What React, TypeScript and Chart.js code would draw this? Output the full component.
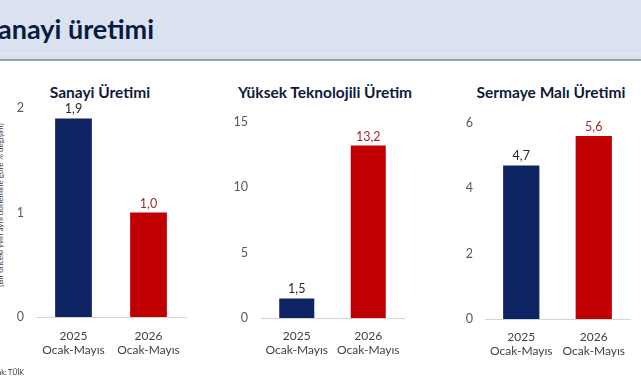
import React, { useEffect, useRef } from "react";
import { Chart, registerables } from "chart.js";

Chart.register(...registerables);

// ---- data ----
const categories: string[][] = [
  ["2025", "Ocak-Mayıs"],
  ["2026", "Ocak-Mayıs"],
];
const sanayiValues = [1.9, 1.0];
const yuksekTeknolojiValues = [1.5, 13.2];
const sermayeMaliValues = [4.7, 5.6];
const sanayiTicks = [0, 1, 2];
const yuksekTeknolojiTicks = [0, 5, 10, 15];
const sermayeMaliTicks = [0, 2, 4, 6];
const barColors = ["#0f2462", "#c00000"];
const valueLabelColors = ["#262626", "#9e2a2a"];

const pageTitle = "Sanayi üretimi";
const axisTitle = "(Bir önceki yılın aynı dönemine göre % değişim)";
const sourceText = "Kaynak: TÜİK";

const FONT = "Lato, 'Open Sans', sans-serif";

type Panel = {
  title: string;
  values: number[];
  ticks: number[];
  left: number;
  width: number;
  yWidth: number;
  padRight: number;
  padTop: number;
  xHeight: number;
  tickPad: number;
  xPad: number;
  barPct: number;
  titleCenter: number;
};

const panels: Panel[] = [
  { title: "Sanayi Üretimi", values: sanayiValues, ticks: sanayiTicks, left: 0, width: 205, yWidth: 36, padRight: 19, padTop: 8, xHeight: 53, tickPad: 12, xPad: 12, barPct: 0.49, titleCenter: 100 },
  { title: "Yüksek Teknolojili Üretim", values: yuksekTeknolojiValues, ticks: yuksekTeknolojiTicks, left: 215, width: 200, yWidth: 46, padRight: 11, padTop: 22, xHeight: 52, tickPad: 13, xPad: 11, barPct: 0.49, titleCenter: 325 },
  { title: "Sermaye Malı Üretimi", values: sermayeMaliValues, ticks: sermayeMaliTicks, left: 430, width: 211, yWidth: 55, padRight: 11, padTop: 23, xHeight: 51, tickPad: 12, xPad: 11, barPct: 0.5, titleCenter: 551 },
];

const fmt = (v: number) => v.toFixed(1).replace(".", ",");

const valueLabelPlugin = {
  id: "valueLabels",
  afterDatasetsDraw(chart: any) {
    const ctx = chart.ctx;
    const meta = chart.getDatasetMeta(0);
    const data = chart.data.datasets[0].data as number[];
    ctx.save();
    ctx.font = `12.5px ${FONT}`;
    ctx.textAlign = "center";
    ctx.textBaseline = "middle";
    meta.data.forEach((el: any, i: number) => {
      ctx.fillStyle = valueLabelColors[i];
      ctx.fillText(fmt(data[i]), el.x, el.y - 9);
    });
    ctx.restore();
  },
};

const CANVAS_TOP = 100;
const CANVAS_H = 270;

function BarPanel({ p }: { p: Panel }) {
  const ref = useRef<HTMLCanvasElement | null>(null);
  useEffect(() => {
    if (!ref.current) return;
    const chart = new Chart(ref.current, {
      type: "bar",
      data: {
        labels: categories,
        datasets: [
          {
            data: p.values,
            backgroundColor: barColors,
            barPercentage: p.barPct,
            categoryPercentage: 1,
          },
        ],
      },
      options: {
        animation: false,
        responsive: false,
        devicePixelRatio: 1,
        layout: { padding: { top: p.padTop, right: p.padRight, left: 0, bottom: 0 } },
        plugins: { legend: { display: false }, tooltip: { enabled: false }, title: { display: false } },
        scales: {
          x: {
            grid: { display: false, drawTicks: false },
            border: { display: true, color: "#d4d4d4", width: 1 },
            ticks: { color: "#404040", font: { family: FONT, size: 12 }, padding: p.xPad, maxRotation: 0 },
            afterFit: (s: any) => { s.height = p.xHeight; },
          },
          y: {
            min: 0,
            max: p.ticks[p.ticks.length - 1],
            grid: { display: false, drawTicks: false },
            border: { display: false },
            ticks: { color: "#595959", font: { family: FONT, size: 12.5 }, padding: p.tickPad },
            afterBuildTicks: (s: any) => { s.ticks = p.ticks.map((v) => ({ value: v })); },
            afterFit: (s: any) => {
              s.width = p.yWidth;
              s.paddingTop = 7;
              s.paddingBottom = 7;
            },
          },
        },
      },
      plugins: [valueLabelPlugin],
    });
    return () => chart.destroy();
  }, [p]);
  return (
    <canvas
      ref={ref}
      width={p.width}
      height={CANVAS_H}
      style={{ position: "absolute", left: p.left, top: CANVAS_TOP, width: p.width, height: CANVAS_H }}
    />
  );
}

export default function App() {
  return (
    <div style={{ position: "absolute", left: 0, top: 0, width: 641, height: 380, background: "#ffffff", overflow: "hidden", fontFamily: FONT }}>
      <div style={{ position: "absolute", left: 0, top: 0, width: 641, height: 52, background: "#dae2ef" }} />
      <div style={{ position: "absolute", left: 0, top: 52, width: 641, height: 7, background: "linear-gradient(#e1e7f2, #d6dcea)" }} />
      <div style={{ position: "absolute", left: 0, top: 59, width: 641, height: 2, background: "#9aa3b5" }} />
      <div
        style={{
          position: "absolute",
          right: 641 - 154,
          top: 12,
          whiteSpace: "nowrap",
          fontSize: 27,
          lineHeight: "34px",
          fontWeight: 700,
          color: "#0b1a40",
        }}
      >
        {pageTitle}
      </div>
      {panels.map((p, i) => (
        <div
          key={"t" + i}
          style={{
            position: "absolute",
            left: p.titleCenter - 120,
            width: 240,
            top: 83,
            textAlign: "center",
            fontSize: 15.5,
            lineHeight: "18px",
            fontWeight: 700,
            color: "#0e1a3c",
            whiteSpace: "nowrap",
          }}
        >
          {p.title}
        </div>
      ))}
      <div
        style={{
          position: "absolute",
          left: 0,
          top: 205,
          transform: "translate(-50%, -50%) rotate(-90deg)",
          whiteSpace: "nowrap",
          fontSize: 8,
          color: "#404040",
        }}
      >
        {axisTitle}
      </div>
      {panels.map((p, i) => (
        <BarPanel key={i} p={p} />
      ))}
      <div
        style={{
          position: "absolute",
          right: 641 - 24,
          top: 368,
          whiteSpace: "nowrap",
          fontSize: 7,
          lineHeight: "9px",
          color: "#333333",
        }}
      >
        {sourceText}
      </div>
    </div>
  );
}
